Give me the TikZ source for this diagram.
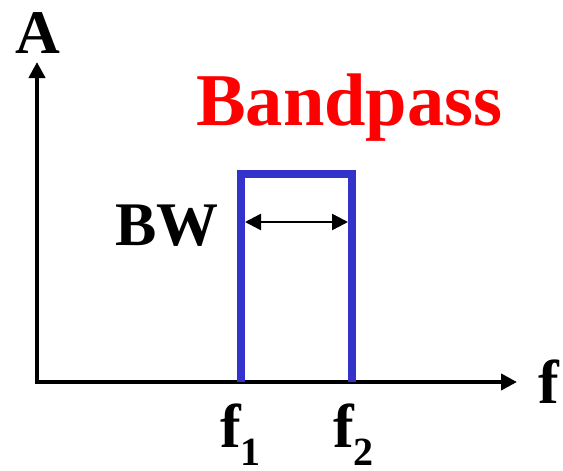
\documentclass[tikz,border=0pt]{standalone}
\usepackage{fontspec}
\setmainfont{Liberation Serif}
\usetikzlibrary{arrows.meta}
\definecolor{bandblue}{RGB}{51,51,204}
\definecolor{bandred}{RGB}{255,0,0}
\tikzset{
  axisline/.style={line width=4pt, -{Triangle[length=16pt,width=16pt]}},
  bandline/.style={line width=7.5pt, bandblue, line join=miter},
  bwarrow/.style={line width=2.5pt, {Triangle[length=16pt,width=16pt]}-{Triangle[length=16pt,width=16pt]}},
  lbl/.style={inner sep=0pt, font=\fontsize{62}{62}\bfseries\selectfont},
  biglbl/.style={inner sep=0pt, font=\fontsize{74.5}{74.5}\bfseries\selectfont, text=bandred}
}
\begin{document}
\begin{tikzpicture}[x=1pt,y=-1pt]
\useasboundingbox (0,0) rectangle (563,471);
% axes
\coordinate (O) at (37,382);
\coordinate (ytip) at (37,62);
\coordinate (xtip) at (517,382);
\draw[axisline] (O) -- (ytip);
\draw[axisline] ([xshift=-2pt]O) -- (xtip);
% band
\coordinate (b1) at (241,382);
\coordinate (t1) at (241,174);
\coordinate (t2) at (352,174);
\coordinate (b2) at (352,382);
\draw[bandline] (b1) -- (t1) -- (t2) -- (b2);
% BW arrow
\coordinate (w1) at (245,222);
\coordinate (w2) at (348,222);
\draw[bwarrow] (w1) -- (w2);
% labels
\node[lbl, anchor=base] (A) at (37.5,53) {A};
\node[biglbl, anchor=base west] (title) at (196,125) {Bandpass};
\node[lbl, anchor=base west] (BW) at (115,245) {BW};
\node[lbl, anchor=base] (f) at (549,403) {f};
\node[lbl, anchor=base west] (f1) at (220,447) {f\raisebox{-18pt}{\fontsize{40}{40}\selectfont 1}};
\node[lbl, anchor=base west] (f2) at (333,447) {f\raisebox{-18pt}{\fontsize{40}{40}\selectfont 2}};
\end{tikzpicture}
\end{document}
